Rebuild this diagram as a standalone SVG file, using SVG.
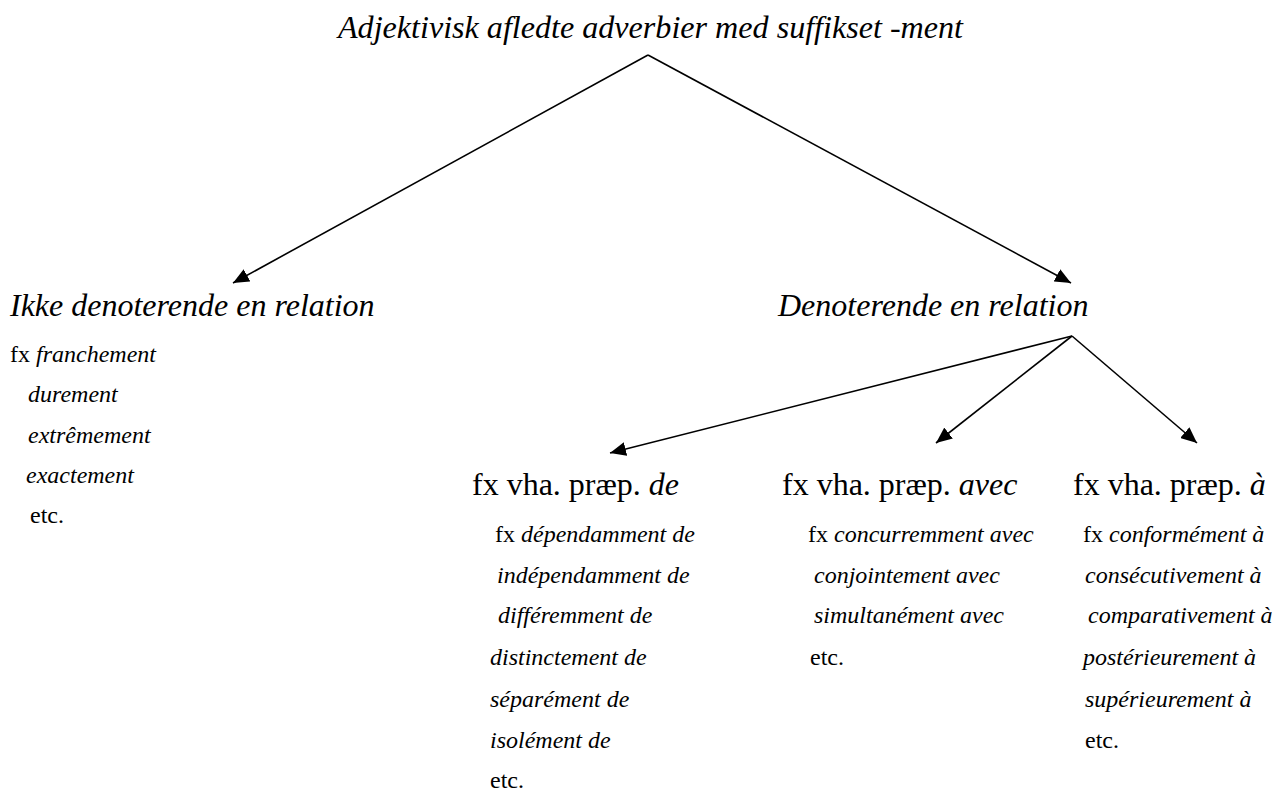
<svg xmlns="http://www.w3.org/2000/svg" width="1276" height="792" viewBox="0 0 1276 792">
<defs>
<style>
text{font-family:"Liberation Serif","Times New Roman",serif;fill:#000}
.it{font-style:italic}
.h{font-size:32px}
.s{font-size:24px}
.ln{stroke:#000;stroke-width:1.6;fill:none}
</style>
<marker id="ah" viewBox="0 0 16 14" refX="16" refY="7" markerWidth="16" markerHeight="14" markerUnits="userSpaceOnUse" orient="auto"><path d="M0,0 L16,7 L0,14 z" fill="#000"/></marker>
</defs>
<rect width="1276" height="792" fill="#fff"/>
<g id="connectors">
<line class="ln" x1="648" y1="55" x2="233" y2="283" marker-end="url(#ah)"/>
<line class="ln" x1="648" y1="55" x2="1071" y2="283" marker-end="url(#ah)"/>
<line class="ln" x1="1072" y1="336" x2="610" y2="453" marker-end="url(#ah)"/>
<line class="ln" x1="1072" y1="336" x2="936" y2="443" marker-end="url(#ah)"/>
<line class="ln" x1="1072" y1="336" x2="1197" y2="443" marker-end="url(#ah)"/>
</g>
<g id="root"><text class="it" style="font-size:31px" x="338" y="38" textLength="625" lengthAdjust="spacingAndGlyphs">Adjektivisk afledte adverbier med suffikset -ment</text></g>
<g id="ikke">
<text class="it h" x="10" y="316">Ikke denoterende en relation</text>
<text class="s" x="10" y="362">fx <tspan class="it">franchement</tspan></text>
<text class="s it" x="28" y="402">durement</text>
<text class="s it" x="28" y="443">extrêmement</text>
<text class="s it" x="26" y="483">exactement</text>
<text class="s" x="30" y="523">etc.</text>
</g>
<g id="denoterende">
<text class="it h" x="778" y="316">Denoterende en relation</text>
</g>
<g id="de">
<text class="h" x="472" y="495">fx vha. præp. <tspan class="it">de</tspan></text>
<text class="s" x="495" y="542">fx <tspan class="it">dépendamment de</tspan></text>
<text class="s it" x="497" y="583">indépendamment de</text>
<text class="s it" x="498" y="623">différemment de</text>
<text class="s it" x="490" y="665">distinctement de</text>
<text class="s it" x="490" y="707">séparément de</text>
<text class="s it" x="490" y="748">isolément de</text>
<text class="s" x="490" y="788">etc.</text>
</g>
<g id="avec">
<text class="h" x="782" y="495">fx vha. præp. <tspan class="it">avec</tspan></text>
<text class="s" x="808" y="542">fx <tspan class="it">concurremment avec</tspan></text>
<text class="s it" x="814" y="583">conjointement avec</text>
<text class="s it" x="814" y="623">simultanément avec</text>
<text class="s" x="810" y="665">etc.</text>
</g>
<g id="a">
<text class="h" x="1073" y="495">fx vha. præp. <tspan class="it">à</tspan></text>
<text class="s" x="1083" y="542">fx <tspan class="it">conformément à</tspan></text>
<text class="s it" x="1085" y="583">consécutivement à</text>
<text class="s it" x="1088" y="623">comparativement à</text>
<text class="s it" x="1083" y="665">postérieurement à</text>
<text class="s it" x="1085" y="707">supérieurement à</text>
<text class="s" x="1085" y="748">etc.</text>
</g>
</svg>
